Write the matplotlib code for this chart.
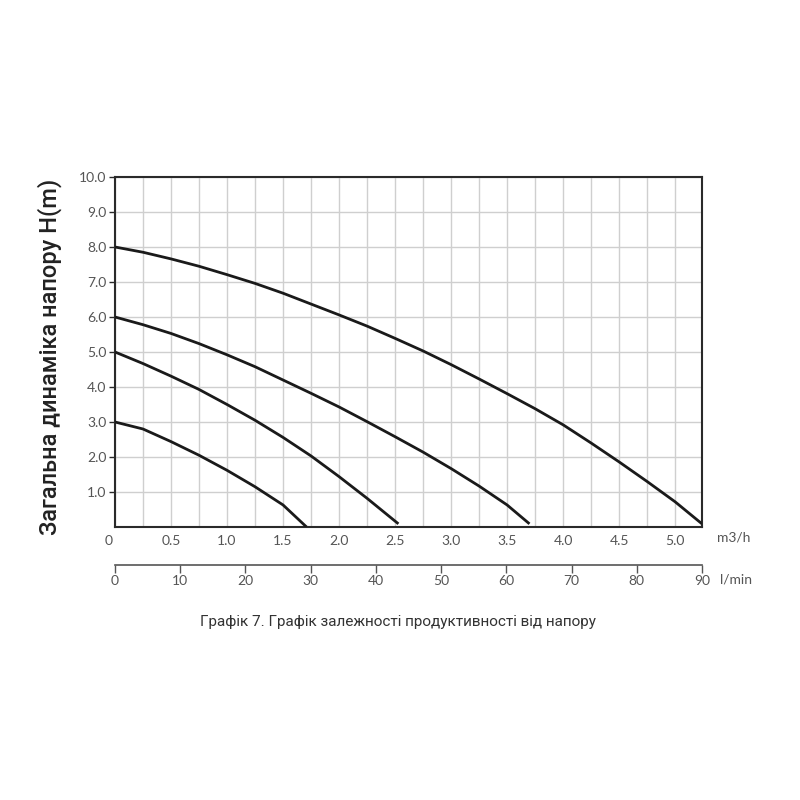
""" Pump head vs flow curves (Графік 7).
"""


""" IMPORTS """
import matplotlib
matplotlib.use("Agg")
import matplotlib.pyplot as plt
import matplotlib.transforms as mtransforms
from matplotlib.ticker import MultipleLocator


""" DATA """
# flow, m3/h  ->  head, m
q_8m = [0, 0.25, 0.5, 0.75, 1.0, 1.25, 1.5, 1.75, 2.0, 2.25, 2.5, 2.75,
        3.0, 3.25, 3.5, 3.75, 4.0, 4.25, 4.5, 4.75, 5.0, 5.24]
h_8m = [8.0, 7.85, 7.66, 7.45, 7.21, 6.96, 6.68, 6.37, 6.06, 5.74, 5.39, 5.03,
        4.64, 4.23, 3.81, 3.38, 2.92, 2.40, 1.86, 1.30, 0.72, 0.09]

q_6m = [0, 0.25, 0.5, 0.75, 1.0, 1.25, 1.5, 1.75, 2.0, 2.25, 2.5, 2.75,
        3.0, 3.25, 3.5, 3.7]
h_6m = [6.0, 5.78, 5.53, 5.24, 4.92, 4.58, 4.2, 3.82, 3.43, 3.01, 2.58, 2.14,
        1.67, 1.17, 0.63, 0.09]

q_5m = [0, 0.25, 0.5, 0.75, 1.0, 1.25, 1.5, 1.75, 2.0, 2.25, 2.53]
h_5m = [5.0, 4.67, 4.31, 3.93, 3.50, 3.05, 2.56, 2.03, 1.44, 0.82, 0.09]

q_3m = [0, 0.25, 0.5, 0.75, 1.0, 1.25, 1.5, 1.71]
h_3m = [3.0, 2.80, 2.44, 2.05, 1.62, 1.15, 0.63, 0.0]

curves = [(q_8m, h_8m), (q_6m, h_6m), (q_5m, h_5m), (q_3m, h_3m)]

m3h_ticks = [0, 0.5, 1.0, 1.5, 2.0, 2.5, 3.0, 3.5, 4.0, 4.5, 5.0]
m3h_labels = ["0", "0.5", "1.0", "1.5", "2.0", "2.5", "3.0", "3.5", "4.0", "4.5", "5.0"]
head_ticks = [1, 2, 3, 4, 5, 6, 7, 8, 9, 10]
lmin_ticks = [0, 10, 20, 30, 40, 50, 60, 70, 80, 90]

ylabel = "Загальна динаміка напору H(m)"
caption = "Графік 7. Графік залежності продуктивності від напору"


""" STYLE """
tick_font = "Lato"
tick_color = "#555555"
frame_color = "#2a2a2a"
grid_color = "#cfcfcf"


""" FUNCTIONS """
def draw_main(fig):
    ax = fig.add_axes([0.14375, 0.34125, 0.73375, 0.4375])
    for q, h in curves:
        ax.plot(q, h, color="#1a1a1a", lw=2.0, solid_capstyle="butt",
                solid_joinstyle="round", zorder=3)

    ax.set_xlim(0, 5.24)
    ax.set_ylim(0, 10)

    ax.set_xticks(m3h_ticks)
    ax.set_xticklabels(m3h_labels)
    ax.xaxis.set_minor_locator(MultipleLocator(0.25))
    ax.set_yticks(head_ticks)
    ax.set_yticklabels([f"{v:.1f}" for v in head_ticks])

    ax.grid(which="both", color=grid_color, lw=1.0, zorder=0)
    ax.set_axisbelow(True)

    ax.tick_params(axis="x", which="both", length=0, pad=6,
                   labelsize=10, labelcolor=tick_color)
    ax.tick_params(axis="y", length=4, width=1, color=frame_color, pad=2,
                   labelsize=10, labelcolor=tick_color)
    for lbl in ax.get_xticklabels() + ax.get_yticklabels():
        lbl.set_fontfamily(tick_font)

    # the "0" under the origin sits a little to the left in the original
    first = ax.get_xticklabels()[0]
    first.set_transform(first.get_transform() +
                        mtransforms.ScaledTranslation(-0.06, 0, fig.dpi_scale_trans))

    for sp in ax.spines.values():
        sp.set_color(frame_color)
        sp.set_linewidth(1.5)

    ax.set_ylabel(ylabel, fontsize=17, fontfamily="Roboto", fontweight="medium",
                  color="#222222")
    ax.yaxis.set_label_coords(-0.09, 0.485)

    ax.text(1.025, -0.03, "m3/h", transform=ax.transAxes, ha="left", va="center",
            fontsize=10, color=tick_color, fontfamily=tick_font)
    return ax


def draw_lmin(fig):
    ax = fig.add_axes([0.14375, 0.29375, 0.73375, 0.001])
    ax.set_xlim(0, 90)
    ax.set_xticks(lmin_ticks)
    ax.set_yticks([])
    for side in ["top", "left", "right"]:
        ax.spines[side].set_visible(False)
    ax.spines["bottom"].set_color(tick_color)
    ax.spines["bottom"].set_linewidth(1.2)
    ax.tick_params(axis="x", length=6, width=1, color=tick_color, direction="out",
                   pad=1, labelsize=10, labelcolor=tick_color)
    for lbl in ax.get_xticklabels():
        lbl.set_fontfamily(tick_font)
    ax.patch.set_alpha(0)

    fig.text(0.9, 0.276, "l/min", ha="left", va="center",
             fontsize=10, color=tick_color, fontfamily=tick_font)


def main():
    fig = plt.figure(figsize=(8, 8), dpi=100)
    draw_main(fig)
    draw_lmin(fig)
    fig.text(0.497, 0.222, caption, ha="center", va="center",
             fontsize=11, color="#333333", fontfamily="Roboto")
    fig.savefig("out.png", dpi=100, facecolor="white")


""" EXECUTION """
if __name__ == "__main__":
    main()
